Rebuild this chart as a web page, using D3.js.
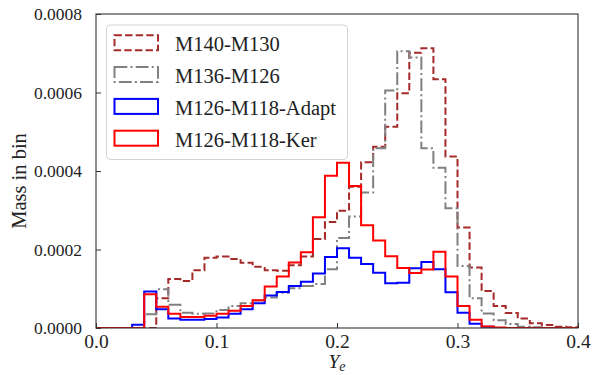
<!DOCTYPE html>
<html>
<head>
<meta charset="utf-8">
<script src="https://cdn.jsdelivr.net/npm/d3@7"></script>
<style>
  html, body { margin: 0; padding: 0; background: #fff; }
  svg { display: block; }
  svg text { font-family: "Liberation Serif", "Times New Roman", "DejaVu Serif", serif !important; fill: #222; }
</style>
</head>
<body>
<svg id="chart" width="598" height="375"></svg>
<script>
// ---- data (bin starts 0.00 .. 0.39, width 0.01) ----
const binEdges = d3.range(0, 41).map(i => +(i * 0.01).toFixed(2));
const seriesNames = ["M140-M130", "M136-M126", "M126-M118-Adapt", "M126-M118-Ker"];

const m140_m130 = [0, 0, 0, 0, 0, 0.000076, 0.000125, 0.000120, 0.000147, 0.000179,
  0.000182, 0.000176, 0.000166, 0.000156, 0.000147, 0.000146, 0.000160, 0.000182, 0.000227, 0.000270,
  0.000299, 0.000360, 0.000422, 0.000462, 0.000513, 0.000598, 0.000701, 0.000713, 0.000634, 0.000437,
  0.000256, 0.000154, 0.000094, 0.000056, 0.000038, 0.000024, 0.000012, 0.0000076, 0.0000034, 0.0000017];

const m136_m126 = [0, 0, 0, 0, 0.000035, 0.000099, 0.000059, 0.000039, 0.000036, 0.000037,
  0.000046, 0.000056, 0.000063, 0.000070, 0.000078, 0.000090, 0.000101, 0.000107, 0.000112, 0.000150,
  0.000229, 0.000284, 0.000345, 0.000458, 0.000605, 0.000705, 0.000689, 0.000458, 0.000408, 0.000305,
  0.000158, 0.000076, 0.000037, 0.000020, 0.000010, 0.0000034, 0.000002, 0, 0, 0];

const m126_m118_adapt = [0, 0, 0, 0.000008, 0.000093, 0.000048, 0.000024, 0.000021, 0.000021, 0.000023,
  0.000027, 0.000036, 0.000048, 0.000063, 0.000083, 0.000092, 0.000107, 0.000118, 0.000139, 0.000181,
  0.000203, 0.000179, 0.000163, 0.000141, 0.000114, 0.000115, 0.000152, 0.000168, 0.000150, 0.000091,
  0.000039, 0.000011, 0.000003, 0, 0, 0, 0, 0, 0, 0];

const m126_m118_ker = [0, 0, 0, 0, 0.000086, 0.000054, 0.000036, 0.000028, 0.000028, 0.000031,
  0.000036, 0.000044, 0.000056, 0.000071, 0.000106, 0.000131, 0.000167, 0.000193, 0.000282, 0.000388,
  0.000421, 0.000362, 0.000262, 0.000223, 0.000183, 0.000153, 0.000140, 0.000149, 0.000194, 0.000131,
  0.000056, 0.000021, 0.000004, 0.000001, 0, 0, 0, 0, 0, 0];

const xTicks = [0.0, 0.1, 0.2, 0.3, 0.4];
const yTicks = [0.0000, 0.0002, 0.0004, 0.0006, 0.0008];

// ---- styles ----
const styles = [
  { color: "#a52a2a", dash: "7.4,3.2" },
  { color: "#808080", dash: "12.8,3.2,2,3.2" },
  { color: "#0000ff", dash: null },
  { color: "#ff0000", dash: null }
];
const seriesValues = [m140_m130, m136_m126, m126_m118_adapt, m126_m118_ker];

// ---- layout ----
const L = 96, R = 578, T = 14, B = 328;
const FONT = '"Liberation Serif", "Times New Roman", "DejaVu Serif", serif';
const svg = d3.select("#chart");
const x = d3.scaleLinear().domain([0, 0.4]).range([L, R]);
const y = d3.scaleLinear().domain([0, 0.0008]).range([B, T]);

svg.append("defs").append("clipPath").attr("id", "clip")
  .append("rect").attr("x", L).attr("y", T).attr("width", R - L).attr("height", B - T);

function stepPoints(vals) {
  const pts = [[binEdges[0], 0]];
  vals.forEach((v, i) => { pts.push([binEdges[i], v]); pts.push([binEdges[i + 1], v]); });
  pts.push([binEdges[binEdges.length - 1], 0]);
  return pts;
}
const line = d3.line().x(d => x(d[0])).y(d => y(d[1]));

const g = svg.append("g").attr("clip-path", "url(#clip)");
seriesValues.forEach((vals, k) => {
  g.append("path")
    .attr("d", line(stepPoints(vals)))
    .attr("fill", "none")
    .attr("stroke", styles[k].color)
    .attr("stroke-width", 2)
    .attr("stroke-linejoin", "miter")
    .attr("stroke-dasharray", styles[k].dash);
});

// ---- axes ----
const xAxis = d3.axisBottom(x).tickValues(xTicks).tickSizeInner(-5).tickSizeOuter(0).tickPadding(12)
  .tickFormat(d3.format(".1f"));
const gx = svg.append("g").attr("transform", `translate(0,${B})`).call(xAxis)
  .attr("font-family", FONT);
gx.select(".domain").remove();
gx.selectAll(".tick line").attr("stroke", "#333");
gx.selectAll(".tick text").style("font-size", "19.5px").attr("fill", "#222").attr("dy", "0.71em").attr("y", 6.5);

const yAxis = d3.axisLeft(y).tickValues(yTicks).tickSizeInner(-5).tickSizeOuter(0).tickPadding(14)
  .tickFormat(d3.format(".4f"));
const gy = svg.append("g").attr("transform", `translate(${L},0)`).call(yAxis)
  .attr("font-family", FONT);
gy.select(".domain").remove();
gy.selectAll(".tick line").attr("stroke", "#333");
gy.selectAll(".tick text").style("font-size", "17.5px").attr("fill", "#222").attr("x", -14);

// frame
svg.append("rect").attr("x", L).attr("y", T).attr("width", R - L).attr("height", B - T)
  .attr("fill", "none").attr("stroke", "#333").attr("stroke-width", 1.1);

// labels
svg.append("text").attr("transform", `translate(26,181) rotate(-90)`)
  .attr("text-anchor", "middle").style("font-size", "20.5px").text("Mass in bin");
const xl = svg.append("text").attr("x", 337).attr("y", 368).attr("text-anchor", "middle")
  .style("font-size", "19.5px");
xl.append("tspan").style("font-style", "italic").text("Y");
xl.append("tspan").style("font-style", "italic").style("font-size", "14px").attr("dy", 3).text("e");

// legend
const lg = svg.append("g");
lg.append("rect").attr("x", 106.5).attr("y", 25).attr("width", 241).attr("height", 134.5)
  .attr("rx", 4).attr("fill", "#fff").attr("fill-opacity", 0.8).attr("stroke", "#d3d3d3").attr("stroke-width", 1);
const rowY = [42.8, 74.6, 106.4, 138.2];
seriesNames.forEach((name, k) => {
  lg.append("rect").attr("x", 114.5).attr("y", rowY[k] - 7.5).attr("width", 43.5).attr("height", 15)
    .attr("fill", "none").attr("stroke", styles[k].color).attr("stroke-width", 2)
    .attr("stroke-dasharray", styles[k].dash);
  lg.append("text").attr("x", 175).attr("y", rowY[k] + 8.5).style("font-size", "20.5px").text(name);
});
</script>
</body>
</html>
